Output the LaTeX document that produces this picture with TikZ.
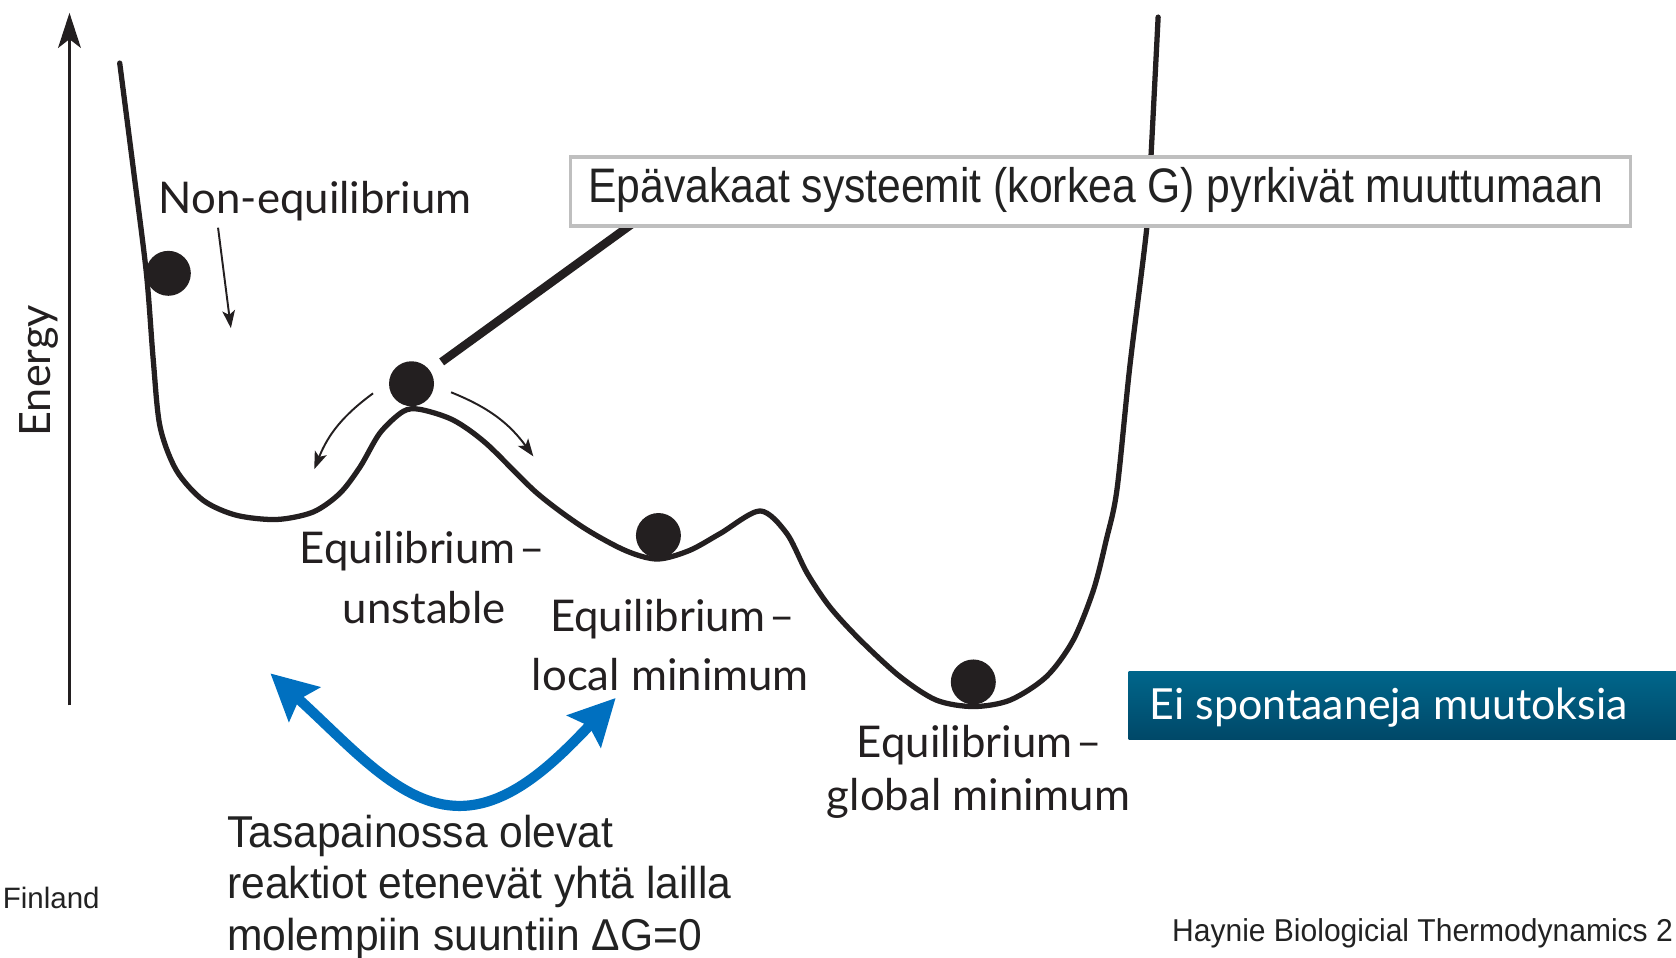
\documentclass[tikz,border=0pt]{standalone}
\usepackage{graphicx}
\usepackage{fontspec}
\setmainfont{Liberation Sans}
\newfontfamily\latofont{Lato}
\newfontfamily\condfont[FakeStretch=0.955]{Liberation Sans}
\usetikzlibrary{arrows.meta}
\definecolor{ink}{HTML}{231F20}
\definecolor{arrowblue}{HTML}{0070C0}
\definecolor{boxtop}{HTML}{00668B}
\definecolor{boxbot}{HTML}{004868}
\definecolor{boxgray}{HTML}{BFBFBF}
\definecolor{notegray}{HTML}{222222}
\begin{document}
\begin{tikzpicture}[x=0.010689cm,y=-0.010689cm,
  curve/.style={line width=1.5pt, draw=ink, line cap=round},
  ball/.style={circle, fill=ink, inner sep=0pt, minimum size=0.45cm},
  lab/.style={font=\latofont\fontsize{12.45}{14}\selectfont, text=ink, inner sep=0pt, anchor=base west},
  thinarrow/.style={line width=0.55pt, draw=ink, -{Stealth[length=5pt,width=3.6pt,inset=1.2pt]}},
  bluearrow/.style={line width=2.9pt, draw=arrowblue, {Stealth[length=13pt,width=13pt,inset=2pt]}-{Stealth[length=13pt,width=13pt,inset=2pt]}},
  notetext/.style={font=\condfont\fontsize{12.7}{14.6}\selectfont, text=notegray, inner sep=0pt, anchor=base west, align=left},
]
\useasboundingbox (0,0) rectangle (1568,896);

% energy axis
\coordinate (axbot) at (65,660);
\coordinate (axtop) at (65,12);
\draw[line width=0.6pt, draw=ink, -{Stealth[length=10pt,width=6.5pt,inset=2.5pt]}] (axbot) -- (axtop);
\node[lab, font=\latofont\fontsize{12.3}{14}\selectfont, rotate=90] (energy) at (47,409) {Energy};

% energy curve
\draw[curve] plot[smooth, tension=0.5] coordinates {
 (112,59) (125,160) (137,256) (143.4,337) (149.7,399) (165,440) (190,468) (221,482)
 (259,486) (293,479) (318,461.5) (337,436.6) (355.5,405) (377,385) (393,383) (424,393)
 (455,415) (502,461) (545,493) (585,515) (615,523) (645,515) (674,499) (711,478)
 (736,499) (755,536) (776.5,568) (805,599) (842,633) (876,655) (910.6,661) (945,655)
 (979,633) (1004,599) (1023,552) (1035,505) (1045,458) (1057,343) (1073,212) (1077,143)
 (1083.5,16)};

% balls
\node[ball] (b1) at (157.5,255.7) {};
\node[ball] (b2) at (385,359) {};
\node[ball] (b3) at (616,501) {};
\node[ball] (b4) at (910.6,638) {};

% thick pointer line to box
\coordinate (lineend) at (592,209);
\draw[line width=2.4pt, draw=ink, shorten <=4pt] (b2) -- (lineend);

% grey box with statement
\node[draw=boxgray, line width=1pt, fill=white, anchor=north west,
      minimum width=10.61cm, minimum height=0.695cm, inner sep=0pt,
      font=\fontsize{13.8}{15}\selectfont, text=notegray] (box) at (532,145)
      {\hbox to 10.61cm{\hspace{0.18cm}\rule[-3.5pt]{0pt}{13.35pt}\scalebox{0.88}[1]{Epävakaat systeemit (korkea G) pyrkivät muuttumaan}\hfil}};

% small arrows
\coordinate (na1) at (204,213);
\coordinate (na2) at (216,307);
\draw[thinarrow] (na1) -- (na2);
\coordinate (la1) at (349,368);
\coordinate (la2) at (294,439);
\draw[thinarrow] (la1) to[bend right=16] (la2);
\coordinate (ra1) at (422,367);
\coordinate (ra2) at (499,427);
\draw[thinarrow] (ra1) to[bend left=16] (ra2);

% labels
\node[lab] (noneq) at (148,200) {Non-equilibrium};
\node[lab] (eq1) at (280,527) {Equilibrium\kern1pt–};
\node[lab] (eq1b) at (320,583) {unstable};
\node[lab] (eq2) at (514,591) {Equilibrium\kern1pt–};
\node[lab] (eq2b) at (497,646) {local minimum};
\node[lab] (eq3) at (801,709) {Equilibrium\kern1pt–};
\node[lab] (eq3b) at (773,758) {global minimum};

% blue double arrow
\coordinate (bl) at (253,630);
\coordinate (br) at (576,653);
\draw[bluearrow] (bl) .. controls (330,700) and (375,754) .. (430,754)
                      .. controls (478,754) and (520,712) .. (br);

% blue box
\shade[top color=boxtop, bottom color=boxbot] (1056,628) rectangle (1600,692);
\node[anchor=base west, inner sep=0pt, text=white,
      font=\latofont\fontsize{12.2}{15}\selectfont] (ei) at (1075,673) {Ei spontaaneja muutoksia};

% note text
\node[notetext] (note) at (212,889) {Tasapainossa olevat\\reaktiot etenevät yhtä lailla\\molempiin suuntiin ΔG=0};

% footers
\node[anchor=base west, inner sep=0pt, text=notegray, font=\fontsize{8.4}{9}\selectfont] (fin) at (2,850) {Finland};
\node[anchor=base west, inner sep=0pt, text=notegray, font=\fontsize{9}{10}\selectfont] (src) at (1096,881) {\scalebox{0.95}[1]{Haynie Biologicial Thermodynamics 2}};
\end{tikzpicture}
\end{document}
